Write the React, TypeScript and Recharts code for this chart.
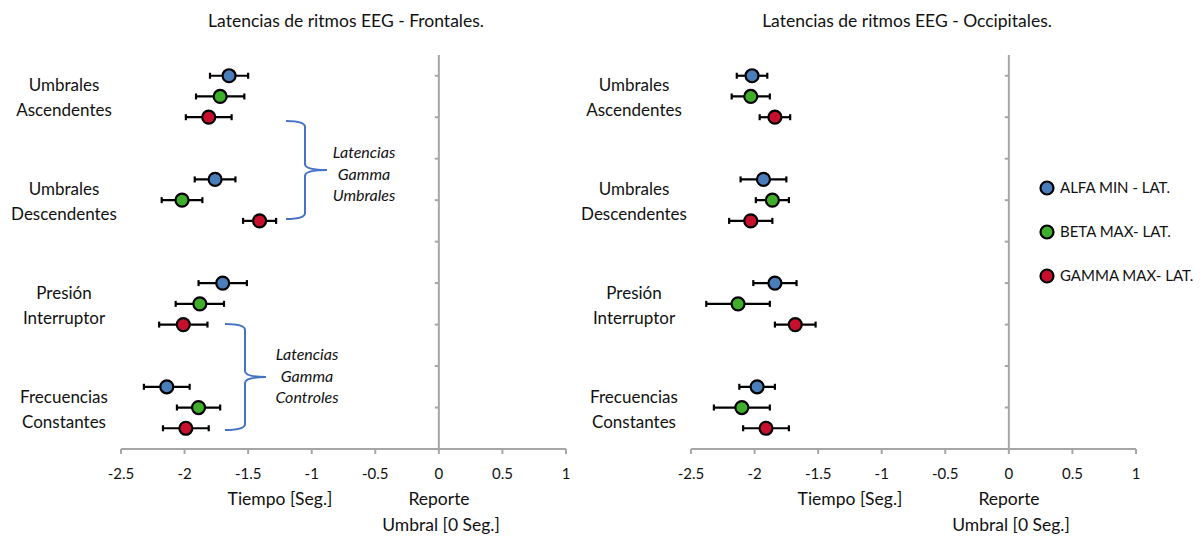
import { ScatterChart, Scatter, XAxis, YAxis, ErrorBar, ReferenceLine } from "recharts"

// Row labels of both panels (two lines each) and where they sit on the y scale
const categories = [
  ["Umbrales", "Ascendentes"],
  ["Umbrales", "Descendentes"],
  ["Presión", "Interruptor"],
  ["Frecuencias", "Constantes"],
]
const categoryRows = [8.5, 6, 3.5, 1]

// Vertical slot of each rhythm inside its group
const alfaRows = [9, 6.5, 4, 1.5]
const betaRows = [8.5, 6, 3.5, 1]
const gammaRows = [8, 5.5, 3, 0.5]

const xTicks = [-2.5, -2, -1.5, -1, -0.5, 0, 0.5, 1]
const rowTicks = [1, 2, 3, 4, 5, 6, 7, 8, 9]

// Frontal latencies (s) and their spread
const frontAlfa = [-1.65, -1.76, -1.7, -2.14]
const frontAlfaErr = [0.15, 0.16, 0.19, 0.18]
const frontBeta = [-1.72, -2.02, -1.88, -1.89]
const frontBetaErr = [0.19, 0.16, 0.19, 0.17]
const frontGamma = [-1.81, -1.41, -2.01, -1.99]
const frontGammaErr = [0.18, 0.13, 0.19, 0.18]

// Occipital latencies (s) and their spread
const occAlfa = [-2.02, -1.93, -1.84, -1.98]
const occAlfaErr = [0.12, 0.18, 0.17, 0.14]
const occBeta = [-2.03, -1.86, -2.13, -2.1]
const occBetaErr = [0.15, 0.13, 0.25, 0.22]
const occGamma = [-1.84, -2.03, -1.68, -1.91]
const occGammaErr = [0.12, 0.17, 0.16, 0.18]

const SERIES = [
  { name: "ALFA MIN - LAT.", color: "#4A7EBB", rows: alfaRows },
  { name: "BETA MAX- LAT.", color: "#3FAE2A", rows: betaRows },
  { name: "GAMMA MAX- LAT.", color: "#C8102E", rows: gammaRows },
]

const AXIS_GRAY = "#a6a6a6"
const FONT = "Lato, 'Noto Sans', sans-serif"

const toPoints = (vals: number[], errs: number[], rows: number[]) =>
  vals.map((x, i) => ({ x, y: rows[i], err: errs[i] }))

const CategoryTick = (props: any) => {
  const { x, y, payload } = props
  const idx = categoryRows.indexOf(payload.value)
  if (idx < 0) return null
  const [a, b] = categories[idx]
  return (
    <text textAnchor="middle" fontSize={17} fill="#111" fontFamily={FONT}>
      <tspan x={x - 57} y={y - 5}>{a}</tspan>
      <tspan x={x - 57} y={y + 20}>{b}</tspan>
    </text>
  )
}

const Dot = (color: string) => (props: any) => (
  <circle cx={props.cx} cy={props.cy} r={6.5} fill={color} stroke="#000" strokeWidth={2.2} />
)

function Panel({ values, errors, width }: { values: number[][]; errors: number[][]; width: number }) {
  return (
    <ScatterChart
      width={width}
      height={538}
      margin={{ top: 55, right: width - 121 - 445, bottom: 0, left: 0 }}
    >
      <XAxis
        type="number"
        dataKey="x"
        domain={[-2.5, 1]}
        ticks={xTicks}
        interval={0}
        height={89}
        axisLine={{ stroke: AXIS_GRAY, strokeWidth: 2 }}
        tickLine={{ stroke: AXIS_GRAY, strokeWidth: 2 }}
        tickSize={5}
        tickMargin={14}
        tick={{ fill: "#111", fontSize: 15, fontFamily: FONT }}
      />
      <YAxis
        type="number"
        dataKey="y"
        domain={[0, 9.5]}
        ticks={categoryRows}
        interval={0}
        width={121}
        axisLine={false}
        tickLine={false}
        tickSize={0}
        tickMargin={0}
        tick={<CategoryTick />}
      />
      <ReferenceLine x={0} stroke={AXIS_GRAY} strokeWidth={2} />
      {rowTicks.map((r) => (
        <ReferenceLine
          key={r}
          segment={[
            { x: -0.032, y: r },
            { x: 0, y: r },
          ]}
          stroke={AXIS_GRAY}
          strokeWidth={2}
        />
      ))}
      {SERIES.map((s, i) => (
        <Scatter
          key={s.name}
          name={s.name}
          data={toPoints(values[i], errors[i], s.rows)}
          fill={s.color}
          shape={Dot(s.color)}
          isAnimationActive={false}
        >
          <ErrorBar dataKey="err" direction="x" width={3} stroke="#000" strokeWidth={2.2} />
        </Scatter>
      ))}
    </ScatterChart>
  )
}

// Curly bracket opening to the right, spanning top..bottom
const brace = (xl: number, xv: number, xt: number, top: number, bottom: number) => {
  const mid = (top + bottom) / 2
  return `M${xl} ${top} Q${xv} ${top} ${xv} ${top + 6} L${xv} ${mid - 6} Q${xv} ${mid} ${xt} ${mid} Q${xv} ${mid} ${xv} ${mid + 6} L${xv} ${bottom - 6} Q${xv} ${bottom} ${xl} ${bottom}`
}

export default function App() {
  return (
    <div style={{ position: "absolute", left: 0, top: 0, width: 1204, height: 538, background: "#fff" }}>
      <div style={{ position: "absolute", left: 0, top: 0 }}>
        <Panel
          width={580}
          values={[frontAlfa, frontBeta, frontGamma]}
          errors={[frontAlfaErr, frontBetaErr, frontGammaErr]}
        />
      </div>
      <div style={{ position: "absolute", left: 570, top: 0 }}>
        <Panel
          width={634}
          values={[occAlfa, occBeta, occGamma]}
          errors={[occAlfaErr, occBetaErr, occGammaErr]}
        />
      </div>
      <svg
        width={1204}
        height={538}
        style={{ position: "absolute", left: 0, top: 0, pointerEvents: "none" }}
        fontFamily={FONT}
      >
        <text x={346} y={27} textAnchor="middle" fontSize={17.5} fill="#111">
          Latencias de ritmos EEG - Frontales.
        </text>
        <text x={907} y={27} textAnchor="middle" fontSize={17.5} fill="#111">
          Latencias de ritmos EEG - Occipitales.
        </text>

        {[0, 570].map((dx) => (
          <g key={dx} fill="#111" fontSize={17.5} textAnchor="middle">
            <text x={dx + 280} y={505}>Tiempo [Seg.]</text>
            <text x={dx + 439} y={505}>Reporte</text>
            <text x={dx + 441} y={531}>Umbral [0 Seg.]</text>
          </g>
        ))}

        <path d={brace(286, 305, 327, 121, 219)} fill="none" stroke="#4472C4" strokeWidth={2} />
        <g fontStyle="italic" fontSize={16} fill="#111" textAnchor="middle">
          <text x={364} y={158}>Latencias</text>
          <text x={364} y={180}>Gamma</text>
          <text x={364} y={201}>Umbrales</text>
        </g>
        <path d={brace(225, 245, 266, 324, 430)} fill="none" stroke="#4472C4" strokeWidth={2} />
        <g fontStyle="italic" fontSize={16} fill="#111" textAnchor="middle">
          <text x={307} y={360}>Latencias</text>
          <text x={307} y={382}>Gamma</text>
          <text x={307} y={403}>Controles</text>
        </g>

        {SERIES.map((s, i) => (
          <g key={s.name}>
            <circle cx={1047} cy={188 + i * 44} r={6.5} fill={s.color} stroke="#000" strokeWidth={2.2} />
            <text x={1060} y={193 + i * 44} fontSize={15} fill="#111">
              {s.name}
            </text>
          </g>
        ))}
      </svg>
    </div>
  )
}
